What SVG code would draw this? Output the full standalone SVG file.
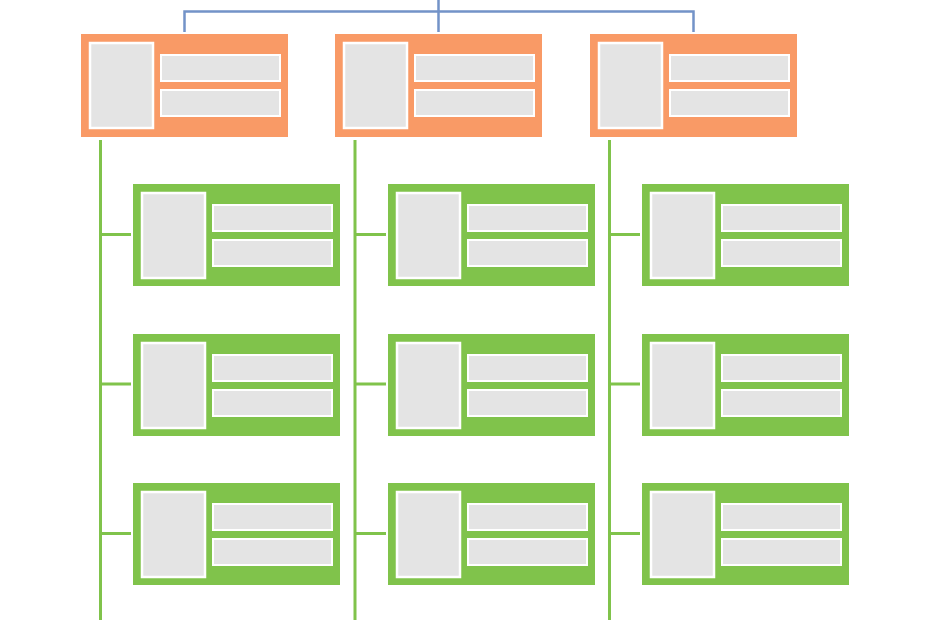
<svg xmlns="http://www.w3.org/2000/svg" xmlns:xlink="http://www.w3.org/1999/xlink" width="930" height="620" viewBox="0 0 930 620">
<style>
.bg{fill:#FFFFFF}
.orange{fill:#F99A66}
.green{fill:#80C34B}
.photo{fill:#E4E4E4;stroke:#FFFFFF;stroke-width:2.5}
.field{fill:#E4E4E4;stroke:#FFFFFF;stroke-width:2}
.blue{fill:none;stroke:#7393C8;stroke-width:2.5}
.gl{fill:none;stroke:#80C34B;stroke-width:3}
</style>
<defs>
<g id="inner">
<rect class="photo" x="9" y="9" width="63" height="85"/>
<rect class="field" x="80" y="21" width="119" height="26"/>
<rect class="field" x="80" y="56" width="119" height="26"/>
</g>
</defs>
<rect class="bg" x="0" y="0" width="930" height="620"/>
<g id="connectors">
<path class="blue" d="M438.5,0 V32 M184.5,32 V11.5 H693.5 V32"/>
<path class="gl" d="M100.5,140 V620 M100.5,234.5 H131 M100.5,384 H131 M100.5,533.5 H131"/>
<path class="gl" d="M355,140 V620 M355,234.5 H386 M355,384 H386 M355,533.5 H386"/>
<path class="gl" d="M609.5,140 V620 M609.5,234.5 H640 M609.5,384 H640 M609.5,533.5 H640"/>
</g>
<g id="top-1" transform="translate(81,34)"><rect class="orange" width="207" height="103"/><use xlink:href="#inner"/></g>
<g id="top-2" transform="translate(335,34)"><rect class="orange" width="207" height="103"/><use xlink:href="#inner"/></g>
<g id="top-3" transform="translate(590,34)"><rect class="orange" width="207" height="103"/><use xlink:href="#inner"/></g>
<g id="c1-r1" transform="translate(133,184)"><rect class="green" width="207" height="102"/><use xlink:href="#inner"/></g>
<g id="c1-r2" transform="translate(133,334)"><rect class="green" width="207" height="102"/><use xlink:href="#inner"/></g>
<g id="c1-r3" transform="translate(133,483)"><rect class="green" width="207" height="102"/><use xlink:href="#inner"/></g>
<g id="c2-r1" transform="translate(388,184)"><rect class="green" width="207" height="102"/><use xlink:href="#inner"/></g>
<g id="c2-r2" transform="translate(388,334)"><rect class="green" width="207" height="102"/><use xlink:href="#inner"/></g>
<g id="c2-r3" transform="translate(388,483)"><rect class="green" width="207" height="102"/><use xlink:href="#inner"/></g>
<g id="c3-r1" transform="translate(642,184)"><rect class="green" width="207" height="102"/><use xlink:href="#inner"/></g>
<g id="c3-r2" transform="translate(642,334)"><rect class="green" width="207" height="102"/><use xlink:href="#inner"/></g>
<g id="c3-r3" transform="translate(642,483)"><rect class="green" width="207" height="102"/><use xlink:href="#inner"/></g>
</svg>
